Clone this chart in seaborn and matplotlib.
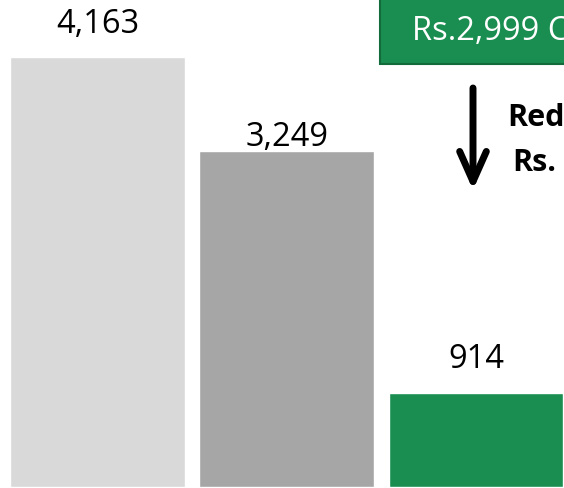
import matplotlib
matplotlib.use('Agg')
import matplotlib.pyplot as plt
import pandas as pd
import seaborn as sns
from matplotlib.patches import Rectangle

# values
categories = ["Before", "Reduction", "After"]
values = [4163, 3249, 914]
bar_colors = ["#d9d9d9", "#a6a6a6", "#1a8d50"]
box_text = "Rs.2,999 C"
note_lines = ["Red", "Rs."]

# label gap above each bar (points)
label_gaps = [18, 4.5, 18.5]

sns.set_theme(style="white")
plt.rcParams['font.family'] = ['Open Sans', 'DejaVu Sans']

df = pd.DataFrame({'cat': categories, 'val': values})

fig = plt.figure(figsize=(5.64, 4.89), dpi=100)
ax = fig.add_axes([0, 0, 1, 1])
sns.barplot(data=df, x='cat', y='val', hue='cat', palette=bar_colors,
            width=0.924, legend=False, saturation=1, ax=ax)

ax.set_xlim(-0.515, 2.465)
ax.set_ylim(-10, 4724)
ax.axis('off')

# value labels above bars
for i, v in enumerate(values):
    ax.annotate(f"{v:,}", (i, v), xytext=(0, label_gaps[i]), textcoords='offset points',
                ha='center', va='baseline', fontsize=23.5, color='black')

# green price box at top right (runs off the edge)
box = Rectangle((380 / 564, 1 - 65 / 489), 0.5, 0.2, transform=fig.transFigure,
                facecolor='#1a8d50', edgecolor='#136b3b', linewidth=1.5)
fig.patches.append(box)
fig.text(412 / 564, 1 - 31 / 489, box_text, color='white', fontsize=23.5,
         ha='left', va='center')

# downward arrow with reduction note
ax.annotate('', xy=(473 / 564, 1 - 191 / 489), xytext=(473 / 564, 1 - 89 / 489),
            xycoords='figure fraction',
            arrowprops=dict(arrowstyle='->,head_length=1.8,head_width=0.8',
                            color='black', lw=5, shrinkA=0, shrinkB=0))
fig.text(507 / 564, 1 - 118 / 489, note_lines[0], fontsize=22, fontweight='bold',
         color='black', ha='left', va='center')
fig.text(512 / 564, 1 - 163 / 489, note_lines[1], fontsize=22, fontweight='bold',
         color='black', ha='left', va='center')

plt.savefig('out.png', dpi=100)
plt.close()
